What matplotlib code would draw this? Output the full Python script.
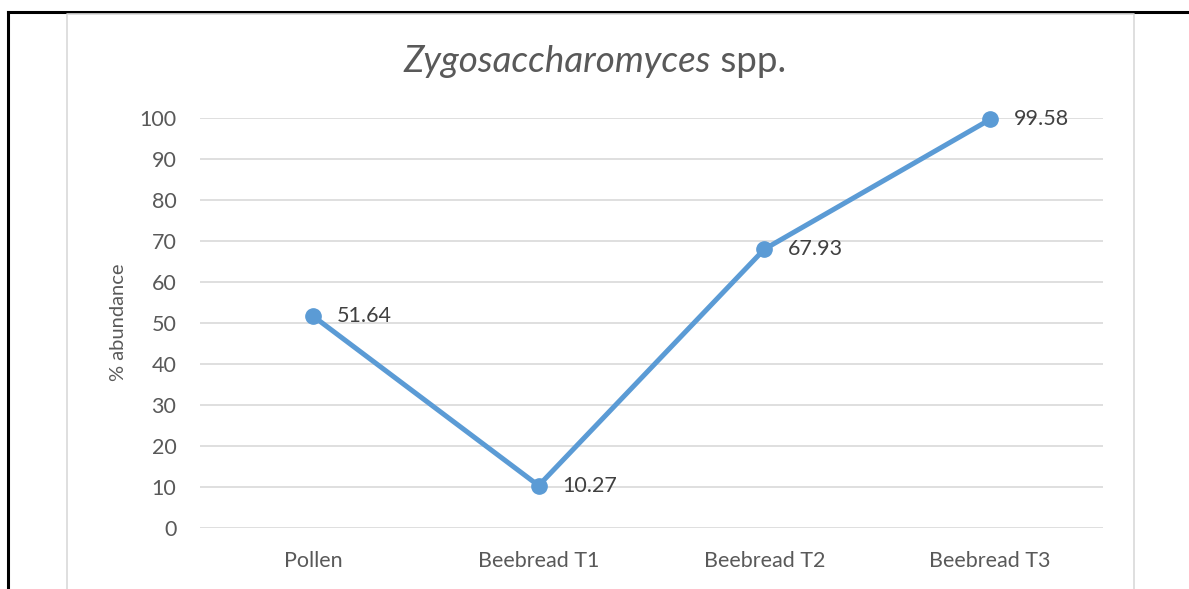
import matplotlib.pyplot as plt
from matplotlib.lines import Line2D

categories = ['Pollen', 'Beebread T1', 'Beebread T2', 'Beebread T3']
abundance = [51.64, 10.27, 67.93, 99.58]
yticks = [0, 10, 20, 30, 40, 50, 60, 70, 80, 90, 100]

W, H = 1189, 589
plt.rcParams['font.family'] = ['Lato', 'DejaVu Sans']
fig = plt.figure(figsize=(W / 100, H / 100), dpi=100)


def fx(px):
    return px / W


def fy(py):
    return 1 - py / H


# outer black frame (top and left) and the grey chart border
fig.add_artist(Line2D([fx(8), 1], [fy(12), fy(12)], color='black', lw=2.2))
fig.add_artist(Line2D([fx(8), fx(8)], [fy(12), 0], color='black', lw=2.2))
fig.add_artist(Line2D([fx(67), fx(67), fx(1134), fx(1134)], [0, fy(13.5), fy(13.5), 0],
                      color='#D9D9D9', lw=1.2))

left, right = 200, 1103
top, bottom = 117.7, 527.7
ax = fig.add_axes([fx(left), fy(bottom), fx(right - left), fy(top) - fy(bottom)])

x = list(range(len(categories)))
ax.plot(x, abundance, color='#5B9BD5', lw=3.6, marker='o', markersize=11,
        zorder=3, clip_on=False)
for xi, v in zip(x, abundance):
    ax.annotate(f'{v:.2f}', (xi, v), xytext=(17, 0), textcoords='offset points',
                va='center', ha='left', fontsize=15.5, color='#404040')

ax.set_xlim(-0.5, 3.5)
ax.set_ylim(0, 100)
ax.set_yticks(yticks)
ax.set_xticks(x)
ax.set_xticklabels(categories)
ax.tick_params(length=0, labelsize=15.5, labelcolor='#595959')
ax.tick_params(axis='y', pad=17)
ax.tick_params(axis='x', pad=17)
ax.grid(axis='y', color='#D9D9D9', lw=1.2)
ax.set_axisbelow(True)
for s in ax.spines.values():
    s.set_visible(False)

ax.set_ylabel('% abundance', fontsize=14.5, color='#595959')
ax.yaxis.set_label_coords((127 - left) / (right - left), 0.5)

# title: italic genus + upright "spp."
t1 = fig.text(0, fy(62), 'Zygosaccharomyces', style='italic', ha='left', va='center',
              fontsize=26.5, color='#595959')
t2 = fig.text(0, fy(62), ' spp.', ha='left', va='center', fontsize=26.5, color='#595959')
fig.canvas.draw()
r = fig.canvas.get_renderer()
w1 = t1.get_window_extent(r).width
w2 = t2.get_window_extent(r).width
x0 = (W / 2 - (w1 + w2) / 2)
t1.set_x(x0 / W)
t2.set_x((x0 + w1) / W)

fig.savefig('out.png', dpi=100)
